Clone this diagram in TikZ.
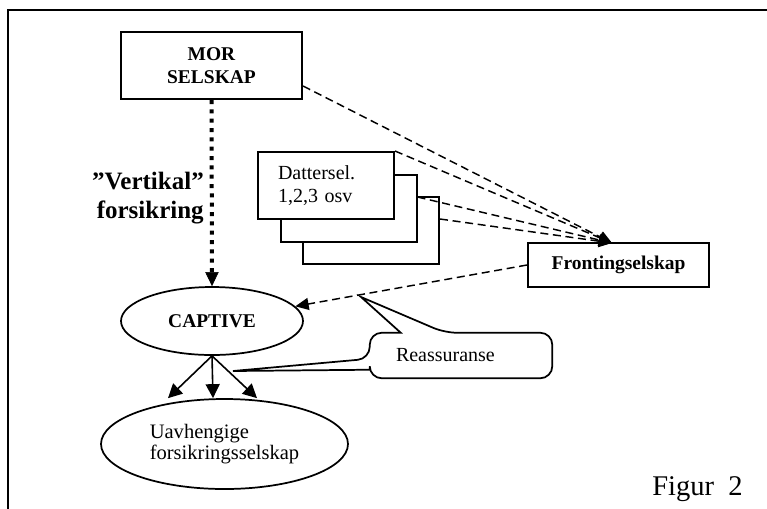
\documentclass[tikz,border=0pt]{standalone}
\usepackage{fontspec}
\setmainfont{Liberation Serif}
\usetikzlibrary{arrows.meta,calc,positioning,shapes.geometric}

\begin{document}
\begin{tikzpicture}[>=Triangle, x=0.75pt, y=-0.75pt,
    box/.style={draw, line width=1.5pt, fill=white, inner sep=0pt},
    oval/.style={ellipse, draw, line width=1.3pt, inner sep=0pt},
    boldtxt/.style={font=\fontsize{14.6}{17.5}\selectfont\bfseries, align=center},
    plaintxt/.style={font=\fontsize{15}{17.5}\selectfont, align=left},
    dashlink/.style={line width=1.1pt, dash pattern=on 6pt off 3.5pt, -{Triangle[length=10pt,width=9pt]}},
    solidlink/.style={line width=1.2pt, -{Triangle[length=10.5pt,width=10.5pt]}}]
    \useasboundingbox (0,0) rectangle (767,508);
    \draw[line width=1.5pt] (7.5,520) -- (7.5,9.5) -- (780,9.5);

    \node[box, boldtxt, minimum width=135.75pt, minimum height=50.25pt] (mor) at (211.5,65.5) {MOR\\SELSKAP};
    \node[box, minimum width=102pt, minimum height=50.25pt] (box3) at (371,230) {};
    \node[box, minimum width=102pt, minimum height=50.25pt] (box2) at (348.5,208) {};
    \node[box, plaintxt, minimum width=102pt, minimum height=50.25pt, text width=72pt, inner xsep=15pt] (box1) at (326,185.5) {Dattersel.\\1,2,3 osv};
    \node[box, boldtxt, minimum width=135.75pt, minimum height=33pt] (fronting) at (618.5,265) {Frontingselskap};
    \node[oval, boldtxt, minimum width=136.5pt, minimum height=51pt] (captive) at (212,321) {CAPTIVE};
    \node[oval, plaintxt, font=\fontsize{15.4}{15.5}\selectfont, minimum width=185.25pt, minimum height=67.5pt] (uavh) at (224.5,444) {Uavhengige\\forsikringsselskap};
    \node[plaintxt, text width=97.5pt, inner xsep=19.5pt, inner ysep=0pt, minimum height=33.75pt] (reass) at (461,355.5) {Reassuranse};
    \node[font=\fontsize{18.75}{21.4}\selectfont\bfseries, align=right, anchor=east, inner sep=0pt] (vlabel) at (204,198) {”Vertikal”\\forsikring};
    \node[font=\fontsize{21.4}{25}\selectfont, anchor=base west, inner sep=0pt] (figur) at (652,495) {Figur\ \ 2};

    \coordinate (hit) at (612,243);
    \coordinate (tipa) at (361,297);
    \coordinate (tipb) at (233,371);

    % vertical insurance
    \draw[line width=3pt, dash pattern=on 3pt off 4pt, -{Triangle[length=10.5pt,width=10pt,line width=0.4pt]}] (mor.south) -- (captive.north);

    % fronting
    \draw[dashlink] ($(mor.south east)+(0,-14)$) -- (hit);
    \draw[dashlink] (box1.north east) -- (hit);
    \draw[dashlink] ($(box2.east)+(0,-11)$) -- (hit);
    \draw[dashlink] ($(box3.east)+(0,-11)$) -- (hit);
    \draw[dashlink] (fronting.west) -- (captive.10);

    \draw[solidlink] (captive.south) -- ($(uavh.north)+(-56.5,0)$);
    \draw[solidlink] (captive.south) -- ($(uavh.north)+(-11.5,0)$);
    \draw[solidlink] (captive.south) -- ($(uavh.north)+(32.5,0)$);

    % callout
    \draw[line width=1.3pt]
      ($(reass.north west)+(31,0)$) [rounded corners=9pt] -- (reass.north west)
      -- ($(reass.north west)+(0,26)$) [sharp corners] -- (tipb)
      -- ($(reass.north west)+(0,37)$) [rounded corners=9pt] -- (reass.south west)
      -- (reass.south east) -- (reass.north east)
      -- ($(reass.north west)+(75,0)$) [sharp corners] -- (tipa) -- cycle;
  \end{tikzpicture}
\end{document}
